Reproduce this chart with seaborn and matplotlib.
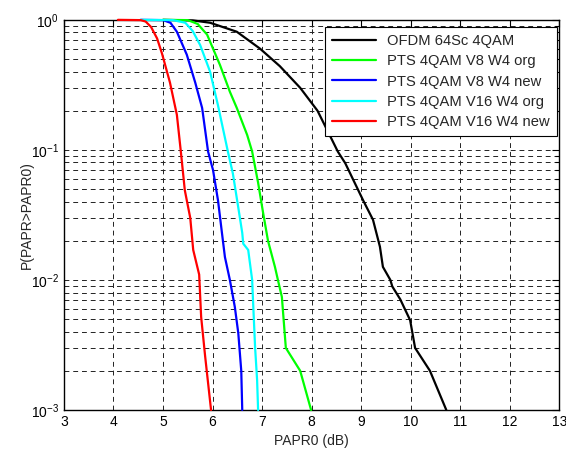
import numpy as np
import pandas as pd
import matplotlib
matplotlib.use("Agg")
import matplotlib.pyplot as plt
import seaborn as sns
from matplotlib.ticker import LogLocator, NullLocator

# CCDF curves (PAPR0 in dB, probability)
ofdm_x = [5.0, 5.6, 5.95, 6.49, 6.96, 7.36, 7.77, 8.12, 8.41, 8.53, 8.68, 8.84,
          9.04, 9.24, 9.38, 9.44, 9.59, 9.63, 9.79, 9.99, 10.09, 10.39, 10.72]
ofdm_y = [1.0, 0.99, 0.95, 0.81, 0.60, 0.44, 0.30, 0.20, 0.12, 0.097, 0.079, 0.059,
          0.041, 0.029, 0.018, 0.0126, 0.01, 0.0089, 0.0071, 0.0049, 0.003, 0.002, 0.001]

v8_org_x = [5.0, 5.5, 5.7, 5.89, 6.15, 6.35, 6.49, 6.70, 6.80, 6.92, 7.02, 7.12,
            7.26, 7.32, 7.40, 7.48, 7.77, 7.99]
v8_org_y = [1.0, 0.995, 0.93, 0.77, 0.45, 0.28, 0.21, 0.13, 0.097, 0.056, 0.033, 0.020,
            0.0126, 0.01, 0.0074, 0.003, 0.002, 0.001]

v8_new_x = [4.55, 5.0, 5.15, 5.28, 5.48, 5.65, 5.79, 5.91, 6.01, 6.11, 6.19, 6.25,
            6.35, 6.45, 6.52, 6.58, 6.6]
v8_new_y = [1.0, 0.995, 0.95, 0.81, 0.54, 0.33, 0.21, 0.097, 0.07, 0.041, 0.023, 0.015,
            0.01, 0.0062, 0.0039, 0.002, 0.001]

v16_org_x = [4.54, 5.2, 5.45, 5.6, 5.75, 5.95, 6.11, 6.31, 6.41, 6.52, 6.6, 6.62,
             6.72, 6.8, 6.82, 6.86, 6.9, 6.92]
v16_org_y = [1.0, 0.995, 0.95, 0.82, 0.64, 0.40, 0.22, 0.097, 0.066, 0.036, 0.023, 0.019,
             0.017, 0.01, 0.0066, 0.003, 0.0017, 0.001]

v16_new_x = [4.09, 4.55, 4.65, 4.76, 4.88, 4.98, 5.14, 5.28, 5.36, 5.44, 5.55, 5.61,
             5.73, 5.77, 5.85, 5.97]
v16_new_y = [1.0, 0.995, 0.97, 0.88, 0.72, 0.55, 0.33, 0.186, 0.097, 0.049, 0.030, 0.017,
             0.011, 0.0052, 0.0026, 0.001]

series = [
    ("OFDM 64Sc 4QAM", ofdm_x, ofdm_y, "black"),
    ("PTS 4QAM V8 W4 org", v8_org_x, v8_org_y, "#00ff00"),
    ("PTS 4QAM V8 W4 new", v8_new_x, v8_new_y, "#0000ff"),
    ("PTS 4QAM V16 W4 org", v16_org_x, v16_org_y, "#00ffff"),
    ("PTS 4QAM V16 W4 new", v16_new_x, v16_new_y, "#ff0000"),
]

sns.set_style("white")
plt.rcParams['font.family'] = ['Liberation Sans', 'DejaVu Sans']
plt.rcParams['mathtext.fontset'] = 'custom'
plt.rcParams['mathtext.rm'] = 'Liberation Sans'

fig = plt.figure(figsize=(5.66, 4.51), dpi=100)
ax = fig.add_axes([0.113, 0.091, 0.875, 0.865])

for name, xs, ys, col in series:
    df = pd.DataFrame({"papr0": xs, "ccdf": ys})
    sns.lineplot(data=df, x="papr0", y="ccdf", color=col, label=name,
                 estimator=None, sort=False, lw=1.6, ax=ax,
                 zorder=3, clip_on=False)

ax.set_yscale("log")
ax.set_xlim(3, 13)
ax.set_ylim(1e-3, 1)
ax.set_xticks(range(3, 14))
ax.xaxis.set_minor_locator(NullLocator())
ax.yaxis.set_major_locator(LogLocator(base=10, numticks=10))
ax.yaxis.set_minor_locator(LogLocator(base=10, subs=np.arange(2, 10), numticks=10))

dash = (0, (5, 4))
ax.grid(which="major", axis="both", color="#222222", linestyle=dash, lw=0.7)
ax.grid(which="minor", axis="y", color="#222222", linestyle=dash, lw=0.7)

ax.tick_params(which="both", direction="in", top=True, right=True,
               labelsize=10, colors="black")
ax.tick_params(which="major", length=5, width=0.8)
ax.tick_params(which="minor", length=3, width=0.8)
for sp in ax.spines.values():
    sp.set_color("black")
    sp.set_linewidth(1.0)

ax.set_xlabel("PAPR0 (dB)", fontsize=10)
ax.set_ylabel("P(PAPR>PAPR0)", fontsize=10)
ax.yaxis.set_label_coords(-0.06, 0.5)

leg = ax.legend(loc="upper right", bbox_to_anchor=(0.996, 0.982), borderaxespad=0,
                fontsize=10.6, frameon=True, fancybox=False,
                handlelength=3.0, handletextpad=0.75, labelspacing=0.42,
                borderpad=0.5)
leg.get_frame().set_edgecolor("black")
leg.get_frame().set_linewidth(0.8)
leg.get_frame().set_alpha(1)
leg.set_zorder(5)

fig.savefig("out.png", dpi=100)
